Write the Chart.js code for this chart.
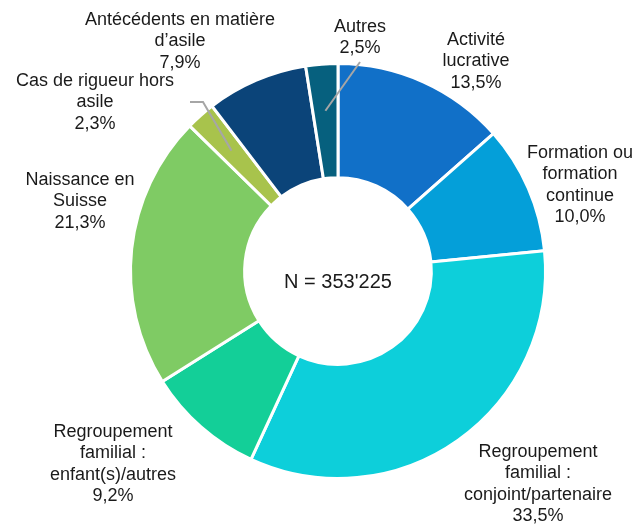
<!DOCTYPE html>
<html>
<head>
<meta charset="utf-8">
<script src="https://cdn.jsdelivr.net/npm/chart.js@4.4.0/dist/chart.umd.min.js"></script>
<style>
  html, body { margin: 0; padding: 0; background: #fff; }
  #wrap { width: 637px; height: 524px; position: relative; }
</style>
</head>
<body>
<div id="wrap"><canvas id="donut"></canvas></div>
<script>
// data
const categories = [
  ["Activité", "lucrative"],
  ["Formation ou", "formation", "continue"],
  ["Regroupement", "familial :", "conjoint/partenaire"],
  ["Regroupement", "familial :", "enfant(s)/autres"],
  ["Naissance en", "Suisse"],
  ["Cas de rigueur hors", "asile"],
  ["Antécédents en matière", "d’asile"],
  ["Autres"]
];
const shares = [13.5, 10.0, 33.5, 9.2, 21.3, 2.3, 7.9, 2.5];
const shareLabels = ["13,5%", "10,0%", "33,5%", "9,2%", "21,3%", "2,3%", "7,9%", "2,5%"];
const totalText = "N = 353'225";

const colours = ["#1170C8", "#049FD9", "#0DCFDA", "#13CF98", "#7FCB64", "#A8C34C", "#0B4479", "#06607E"];

// where each label block sits (centre x, first line y)
const labelAt = [
  [476, 40], [580, 153], [538, 452], [113, 432],
  [80, 180], [95, 81], [180, 20], [360, 27]
];
// leader lines: start points near the label, end goes into the slice
const leaders = {
  5: [[190, 102], [203, 102]],
  7: [[360, 62]]
};

const labelPlugin = {
  id: 'labelPlugin',
  afterDraw(chart) {
    const ctx = chart.ctx;
    const meta = chart.getDatasetMeta(0);
    ctx.save();
    // leaders
    ctx.strokeStyle = "#A6A6A6";
    ctx.lineWidth = 2;
    for (const k in leaders) {
      const arc = meta.data[k];
      const mid = (arc.startAngle + arc.endAngle) / 2;
      const r = arc.innerRadius + (arc.outerRadius - arc.innerRadius) * 0.59;
      const ex = arc.x + Math.cos(mid) * r;
      const ey = arc.y + Math.sin(mid) * r;
      const pts = leaders[k];
      ctx.beginPath();
      ctx.moveTo(pts[0][0], pts[0][1]);
      for (let i = 1; i < pts.length; i++) ctx.lineTo(pts[i][0], pts[i][1]);
      ctx.lineTo(ex, ey);
      ctx.stroke();
    }
    // text
    ctx.fillStyle = "#1a1a1a";
    ctx.font = "18px 'Liberation Sans', Arial, sans-serif";
    ctx.textAlign = "center";
    ctx.textBaseline = "middle";
    const lh = 21.5;
    categories.forEach((lines, i) => {
      const all = lines.concat([shareLabels[i]]);
      all.forEach((t, j) => {
        ctx.fillText(t, labelAt[i][0], labelAt[i][1] + j * lh);
      });
    });
    // centre
    const a0 = meta.data[0];
    ctx.font = "20px 'Liberation Sans', Arial, sans-serif";
    ctx.fillText(totalText, a0.x, a0.y + 11);
    ctx.restore();
  }
};

new Chart(document.getElementById("donut"), {
  type: 'doughnut',
  data: {
    labels: categories.map(c => c.join(" ")),
    datasets: [{
      data: shares,
      backgroundColor: colours,
      borderColor: "#ffffff",
      borderWidth: 3
    }]
  },
  options: {
    responsive: true,
    maintainAspectRatio: false,
    animation: false,
    cutout: "45%",
    layout: { padding: { top: 62, bottom: 44, left: 129, right: 90 } },
    plugins: {
      legend: { display: false },
      tooltip: { enabled: false }
    }
  },
  plugins: [labelPlugin]
});
</script>
</body>
</html>
